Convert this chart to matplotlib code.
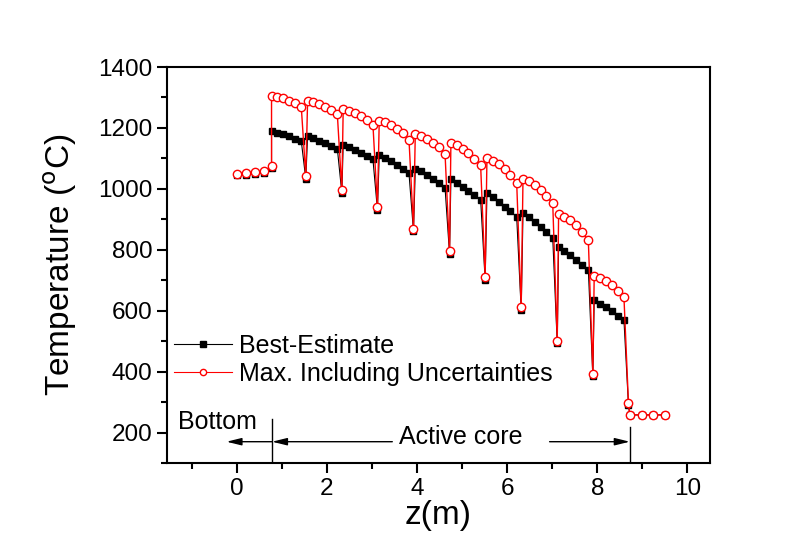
import matplotlib
matplotlib.use("Agg")
import matplotlib.pyplot as plt
from matplotlib.ticker import MultipleLocator

plt.rcParams['font.family'] = ['Liberation Sans', 'DejaVu Sans']

# axial position (m)
z = [0.00, 0.20, 0.40, 0.60, 0.77,
     0.77, 0.90, 1.03, 1.16, 1.29, 1.43, 1.53,
     1.57, 1.70, 1.83, 1.96, 2.09, 2.23, 2.33,
     2.36, 2.49, 2.62, 2.75, 2.88, 3.02, 3.12,
     3.16, 3.29, 3.42, 3.55, 3.68, 3.82, 3.92,
     3.96, 4.09, 4.22, 4.35, 4.48, 4.62, 4.72,
     4.75, 4.88, 5.01, 5.14, 5.27, 5.41, 5.51,
     5.55, 5.68, 5.81, 5.94, 6.07, 6.21, 6.31,
     6.35, 6.48, 6.61, 6.74, 6.87, 7.01, 7.11,
     7.14, 7.27, 7.40, 7.53, 7.66, 7.80, 7.90,
     7.93, 8.06, 8.19, 8.32, 8.45, 8.59, 8.69,
     8.72, 8.98, 9.24, 9.50]

best_estimate = [1045, 1047, 1050, 1053, 1070,
                 1190, 1185, 1179, 1172, 1165, 1157, 1033,
                 1172, 1166, 1158, 1150, 1141, 1132, 987,
                 1145, 1137, 1128, 1118, 1108, 1097, 932,
                 1110, 1100, 1090, 1078, 1065, 1051, 861,
                 1066, 1058, 1046, 1033, 1019, 1004, 787,
                 1031, 1020, 1007, 994, 980, 965, 702,
                 985, 972, 958, 942, 926, 908, 603,
                 921, 907, 891, 874, 857, 839, 493,
                 810, 797, 782, 767, 751, 735, 385,
                 634, 623, 611, 598, 584, 570, 292,
                 258, 258, 258, 258]

max_uncert = [1050, 1052, 1055, 1058, 1075,
              1305, 1302, 1297, 1290, 1281, 1269, 1041,
              1288, 1284, 1278, 1270, 1259, 1245, 995,
              1261, 1256, 1249, 1239, 1226, 1211, 940,
              1224, 1219, 1210, 1198, 1183, 1162, 869,
              1181, 1175, 1165, 1152, 1136, 1116, 795,
              1150, 1143, 1131, 1117, 1099, 1077, 710,
              1100, 1093, 1081, 1065, 1045, 1020, 611,
              1033, 1026, 1013, 996, 976, 952, 501,
              916, 909, 897, 880, 857, 831, 393,
              713, 707, 697, 684, 666, 645, 298,
              258, 258, 258, 258]

bottom_end = 0.78
core_end = 8.72

fig = plt.figure(figsize=(8.04, 5.53), dpi=100)
ax = fig.add_axes([0.2077, 0.1627, 0.6754, 0.7161])

ax.plot(z, best_estimate, '-', color='black', lw=0.8, marker='s', ms=4.5,
        mfc='black', mec='black')
ax.plot(z, max_uncert, '-', color='red', lw=1.0, marker='o', ms=6,
        mfc='white', mec='red', mew=1.0)

# legend handles: line - marker - line, drawn with gaps like the original
ax.plot([], [], color='black', lw=0.8, marker='s', ms=4.5, label='Best-Estimate')
ax.plot([], [], color='red', lw=0.8, marker='o', ms=4.5, mfc='white', mec='red',
        label='Max. Including Uncertainties')

# region markers
ax.plot([bottom_end, bottom_end], [100, 245], color='black', lw=1)
ax.plot([core_end, core_end], [100, 218], color='black', lw=1)
arr = dict(arrowstyle='-|>,head_length=0.9,head_width=0.22', color='black', lw=1,
           shrinkA=0, shrinkB=0)
ax.annotate('', xy=(-0.23, 170), xytext=(bottom_end, 170), arrowprops=arr)
ax.annotate('', xy=(bottom_end, 170), xytext=(3.45, 170), arrowprops=arr)
ax.annotate('', xy=(core_end, 170), xytext=(6.94, 170), arrowprops=arr)
ax.text(-0.43, 235, 'Bottom', fontsize=18, ha='center', va='center')
ax.text(4.97, 185, 'Active core', fontsize=18, ha='center', va='center')

ax.set_xlim(-1.55, 10.5)
ax.set_ylim(100, 1400)
ax.xaxis.set_major_locator(MultipleLocator(2))
ax.xaxis.set_minor_locator(MultipleLocator(1))
ax.yaxis.set_major_locator(MultipleLocator(200))
ax.yaxis.set_minor_locator(MultipleLocator(100))
ax.tick_params(which='major', direction='out', length=7, width=1.5, labelsize=17.5,
               top=False, right=False)
ax.tick_params(which='minor', direction='out', length=4, width=1.5,
               top=False, right=False)
for s in ax.spines.values():
    s.set_linewidth(1.5)

ax.set_xlabel('z(m)', fontsize=24, labelpad=0)
ax.set_ylabel('Temperature ($^{\\rm o}$C)', fontsize=24, labelpad=14)

ax.legend(loc='upper left', bbox_to_anchor=(0.0, 0.345), frameon=False,
          fontsize=18, numpoints=1, handlelength=2.3, handletextpad=0.3,
          labelspacing=0.15, borderpad=0, borderaxespad=0.3)

fig.savefig('out.png', dpi=100)
